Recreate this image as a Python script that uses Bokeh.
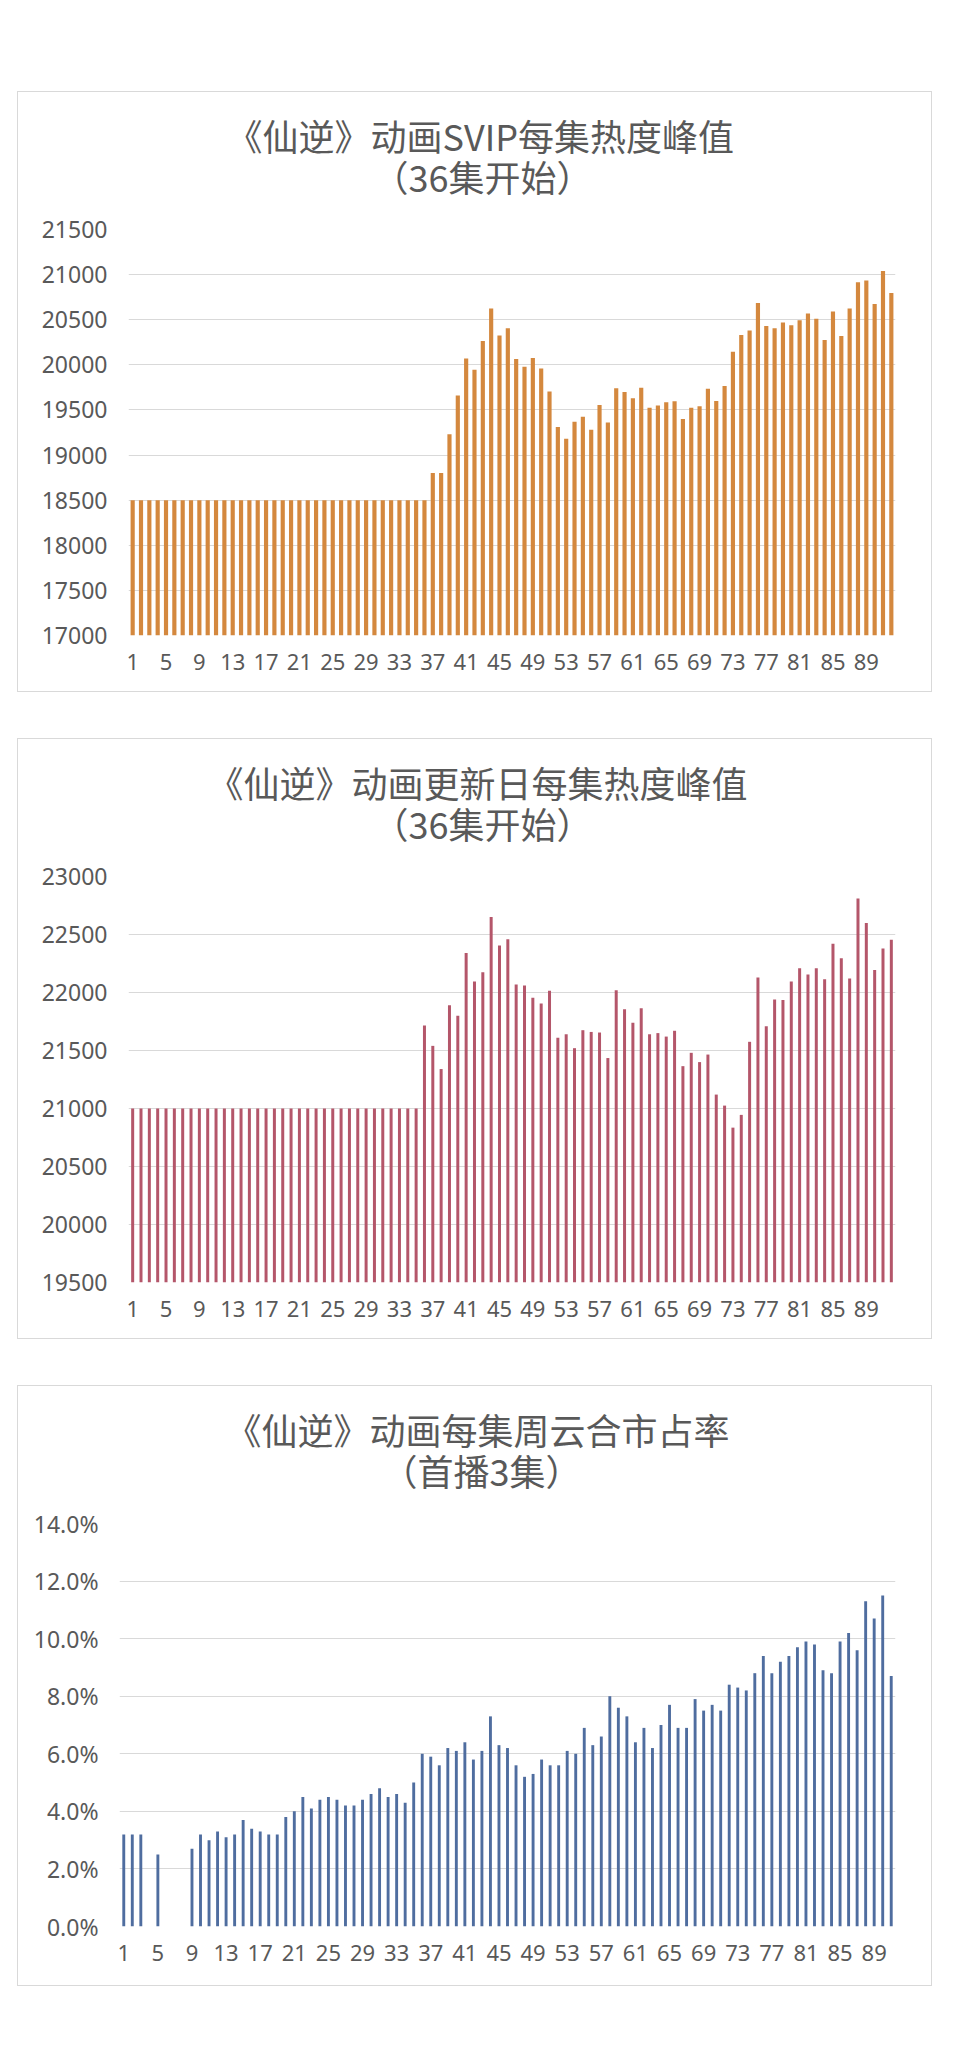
from bokeh.plotting import figure
from bokeh.layouts import column
from bokeh.models import Range1d, FixedTicker, PrintfTickFormatter, ColumnDataSource, Label
from bokeh.embed import file_html
from bokeh.resources import INLINE

# ---------------- data ----------------
episodes_92 = list(range(1, 93))
episodes_91 = list(range(1, 92))
x_tick_episodes = [1, 5, 9, 13, 17, 21, 25, 29, 33, 37, 41, 45, 49, 53, 57, 61, 65, 69, 73, 77, 81, 85, 89]

svip_title = ["《仙逆》动画SVIP每集热度峰值", "（36集开始）"]
svip_peak = [
    18500, 18500, 18500, 18500, 18500, 18500, 18500, 18500, 18500, 18500,
    18500, 18500, 18500, 18500, 18500, 18500, 18500, 18500, 18500, 18500,
    18500, 18500, 18500, 18500, 18500, 18500, 18500, 18500, 18500, 18500,
    18500, 18500, 18500, 18500, 18500, 18500, 18800, 18800, 19230, 19660,
    20070, 19945, 20265, 20625, 20325, 20405, 20065, 19980, 20075, 19960,
    19705, 19310, 19180, 19370, 19425, 19280, 19555, 19360, 19740, 19700,
    19630, 19745, 19525, 19550, 19585, 19595, 19400, 19525, 19540, 19735,
    19600, 19765, 20145, 20330, 20380, 20685, 20430, 20405, 20470, 20440,
    20495, 20570, 20510, 20275, 20590, 20320, 20625, 20915, 20935, 20675,
    21040, 20795,
]
svip_ticks = [17000, 17500, 18000, 18500, 19000, 19500, 20000, 20500, 21000, 21500]

update_title = ["《仙逆》动画更新日每集热度峰值", "（36集开始）"]
update_peak = [
    21000, 21000, 21000, 21000, 21000, 21000, 21000, 21000, 21000, 21000,
    21000, 21000, 21000, 21000, 21000, 21000, 21000, 21000, 21000, 21000,
    21000, 21000, 21000, 21000, 21000, 21000, 21000, 21000, 21000, 21000,
    21000, 21000, 21000, 21000, 21000, 21715, 21540, 21340, 21890, 21800,
    22340, 22095, 22175, 22650, 22405, 22460, 22070, 22060, 21955, 21905,
    22015, 21610, 21640, 21520, 21675, 21660, 21655, 21435, 22020, 21855,
    21740, 21865, 21640, 21650, 21620, 21670, 21365, 21480, 21400, 21465,
    21120, 21025, 20835, 20945, 21575, 22130, 21710, 21940, 21935, 22095,
    22210, 22155, 22210, 22115, 22420, 22295, 22120, 22810, 22600, 22195,
    22380, 22455,
]
update_ticks = [19500, 20000, 20500, 21000, 21500, 22000, 22500, 23000]

share_title = ["《仙逆》动画每集周云合市占率", "（首播3集）"]
share_pct = [
    3.2, 3.2, 3.2, None, 2.5, None, None, None, 2.7, 3.2,
    3.0, 3.3, 3.1, 3.2, 3.7, 3.4, 3.3, 3.2, 3.2, 3.8,
    4.0, 4.5, 4.1, 4.4, 4.5, 4.4, 4.2, 4.2, 4.4, 4.6,
    4.8, 4.5, 4.6, 4.3, 5.0, 6.0, 5.9, 5.6, 6.2, 6.1,
    6.4, 5.8, 6.1, 7.3, 6.3, 6.2, 5.6, 5.2, 5.3, 5.8,
    5.6, 5.6, 6.1, 6.0, 6.9, 6.3, 6.6, 8.0, 7.6, 7.3,
    6.4, 6.9, 6.2, 7.0, 7.7, 6.9, 6.9, 7.9, 7.5, 7.7,
    7.5, 8.4, 8.3, 8.2, 8.8, 9.4, 8.8, 9.2, 9.4, 9.7,
    9.9, 9.8, 8.9, 8.8, 9.9, 10.2, 9.6, 11.3, 10.7, 11.5,
    8.7,
]
share_ticks = [0, 2, 4, 6, 8, 10, 12, 14]

# ---------------- styling / layout constants ----------------
TEXT = "#595959"
GRID = "#d9d9d9"
BOX_W = 915
BOX_H = 601
TITLE_H = 108            # title band height (top of chart box)
FRAME_TOP = 138          # plot frame top, px below the box top
RIGHT_BORDER = 37
TITLE_LINE_Y = [43, 84]  # title line centres (px from box top)


def make_title(titles, lefts, border_left):
    # the band's frame has the same side borders as the chart below it;
    # its x range is in px from the chart box's left edge, y in px from its top
    t = figure(width=BOX_W, height=TITLE_H,
               x_range=Range1d(border_left, BOX_W - RIGHT_BORDER),
               y_range=Range1d(TITLE_H, 0),
               x_axis_type=None, y_axis_type=None,
               output_backend="svg", toolbar_location=None,
               min_border_left=border_left, min_border_right=RIGHT_BORDER,
               min_border_top=0, min_border_bottom=0,
               outline_line_color=None,
               background_fill_color=None, border_fill_color=None)
    t.styles = {"box-shadow": "inset 1px 1px 0 0 #d9d9d9, inset -1px 0 0 0 #d9d9d9",
                "background-color": "white"}
    t.grid.visible = False
    for txt, x0, y0 in zip(titles, lefts, TITLE_LINE_Y):
        t.add_layout(Label(x=x0, y=y0, text=txt,
                           text_align="left", text_baseline="middle",
                           text_font="Noto Sans CJK SC", text_font_size="36px",
                           text_color=TEXT))
    return t


def make_chart(episodes, values, color, bar_width, ticks, fmt, border_left, frame_h):
    pairs = [(e, v) for e, v in zip(episodes, values) if v is not None]
    src = ColumnDataSource(data=dict(x=[a for a, _ in pairs], top=[b for _, b in pairs]))
    chart_h = BOX_H - TITLE_H
    top_pad = FRAME_TOP - TITLE_H
    p = figure(
        width=BOX_W, height=chart_h,
        x_range=Range1d(0.5, len(episodes) + 0.5),
        y_range=Range1d(ticks[0], ticks[-1]),
        output_backend="svg", toolbar_location=None,
        min_border_left=border_left, min_border_right=RIGHT_BORDER,
        min_border_top=top_pad,
        min_border_bottom=chart_h - top_pad - frame_h,
        outline_line_color=None,
        background_fill_color=None, border_fill_color=None,
    )
    p.styles = {"box-shadow": "inset 1px -1px 0 0 #d9d9d9, inset -1px 0 0 0 #d9d9d9",
                "background-color": "white"}
    p.title.visible = False
    p.vbar(x="x", top="top", bottom=ticks[0], width=bar_width, source=src,
           fill_color=color, line_color=None)
    p.xgrid.visible = False
    p.ygrid.grid_line_color = GRID
    p.ygrid.grid_line_width = 1
    p.ygrid.ticker = FixedTicker(ticks=ticks)
    p.yaxis.ticker = FixedTicker(ticks=ticks)
    if fmt:
        p.yaxis.formatter = PrintfTickFormatter(format=fmt)
    p.xaxis.ticker = FixedTicker(ticks=x_tick_episodes)
    for ax in (p.xaxis[0], p.yaxis[0]):
        ax.axis_line_color = None
        ax.major_tick_line_color = None
        ax.minor_tick_line_color = None
        ax.major_tick_in = 0
        ax.major_tick_out = 0
        ax.minor_tick_in = 0
        ax.minor_tick_out = 0
        ax.major_label_text_color = TEXT
        ax.major_label_text_font = "Noto Sans"
    p.yaxis.major_label_text_font_size = "23px"
    p.xaxis.major_label_text_font_size = "22px"
    p.yaxis.major_label_standoff = 21
    p.xaxis.major_label_standoff = 18
    return p


box1 = column(make_title(svip_title, [209, 355], 111),
              make_chart(episodes_92, svip_peak, "#D4883E", 0.5, svip_ticks, None, 111, 406),
              spacing=0)
box2 = column(make_title(update_title, [190, 355], 111),
              make_chart(episodes_92, update_peak, "#B4566A", 0.36, update_ticks, None, 111, 406),
              spacing=0)
box3 = column(make_title(share_title, [208, 364], 102),
              make_chart(episodes_91, share_pct, "#4F6D9F", 0.34, share_ticks, "%.1f%%", 102, 403),
              spacing=0)

layout = column(box1, box2, box3, spacing=46, margin=(91, 0, 0, 17))

with open("out.html", "w") as f:
    f.write(file_html(layout, INLINE))
